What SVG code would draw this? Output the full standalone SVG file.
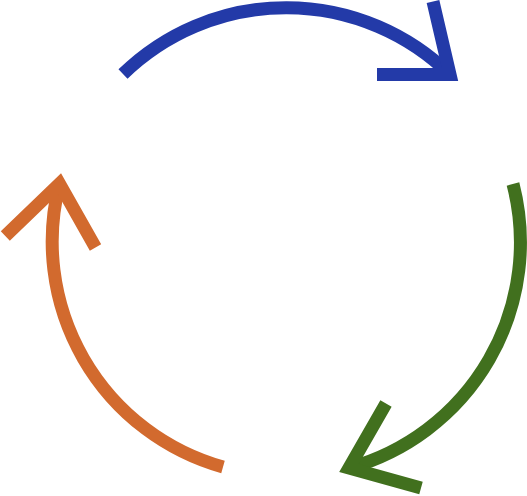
<svg xmlns="http://www.w3.org/2000/svg" width="527" height="496" viewBox="0 0 527 496">
  <style>
    .arrow { fill: none; stroke-width: 13; stroke-linecap: butt; stroke-linejoin: miter; stroke-miterlimit: 10; }
    .blue { stroke: #233AA8; }
    .green { stroke: #41701E; }
    .orange { stroke: #D26A2E; }
  </style>
  <rect width="527" height="496" fill="#ffffff"/>
  <g id="connectors">
    <g id="arrow-blue" class="arrow blue">
      <path d="M123,74 A234,234 0 0 1 450,74.5"/>
      <polyline points="433,1.5 450,74.5 377,74.5"/>
    </g>
    <g id="arrow-green" class="arrow green">
      <path d="M513,184 A234,234 0 0 1 349,468"/>
      <polyline points="386,403.5 349,468 421,488"/>
    </g>
    <g id="arrow-orange" class="arrow orange">
      <path d="M223,467 A234,234 0 0 1 59.5,183.7"/>
      <polyline points="5.3,236 59.5,183.7 95.5,247.5"/>
    </g>
  </g>
</svg>
